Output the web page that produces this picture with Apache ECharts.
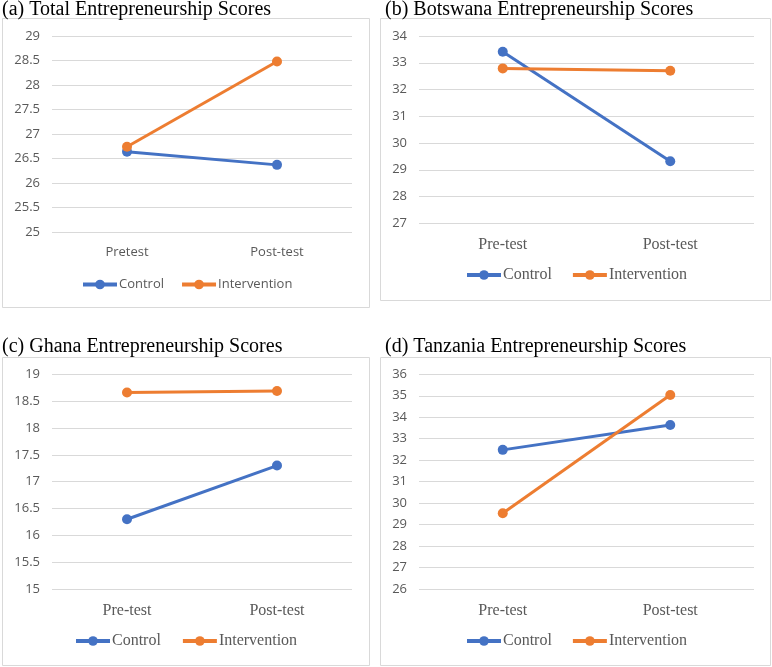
<!DOCTYPE html>
<html>
<head>
<meta charset="utf-8">
<script src="https://cdn.jsdelivr.net/npm/echarts@6/dist/echarts.min.js"></script>
<style>html,body{margin:0;padding:0;background:#fff}#c{width:772px;height:667px}</style>
</head>
<body>
<div id="c"></div>
<script>
// ---- data ----
const titles = [
  '(a) Total Entrepreneurship Scores',
  '(b) Botswana Entrepreneurship Scores',
  '(c) Ghana Entrepreneurship Scores',
  '(d) Tanzania Entrepreneurship Scores'
];
const categoriesA = ['Pretest', 'Post-test'];
const categoriesBCD = ['Pre-test', 'Post-test'];
const seriesNames = ['Control', 'Intervention'];

const totalControl = [26.64, 26.37];
const totalIntervention = [26.74, 28.48];
const botswanaControl = [33.41, 29.32];
const botswanaIntervention = [32.79, 32.70];
const ghanaControl = [16.30, 17.30];
const ghanaIntervention = [18.66, 18.69];
const tanzaniaControl = [32.48, 33.64];
const tanzaniaIntervention = [29.53, 35.04];

const yRanges = [
  {min: 25, max: 29, interval: 0.5},
  {min: 27, max: 34, interval: 1},
  {min: 15, max: 19, interval: 0.5},
  {min: 26, max: 36, interval: 1}
];

// ---- layout / style ----
const BLUE = '#4472C4', ORANGE = '#ED7D31';
const SANS = '"Open Sans", sans-serif';
const SERIF = '"Liberation Serif", "Times New Roman", serif';
const grids = [
  {left: 52, width: 300, top: 36, height: 196},
  {left: 419, width: 335, top: 36, height: 187.3},
  {left: 52, width: 300, top: 374.3, height: 214.7},
  {left: 419, width: 335, top: 374.3, height: 214.7}
];
const boxes = [
  {x: 2.5, y: 18.5, w: 367, h: 289},
  {x: 380.5, y: 18.5, w: 390, h: 282},
  {x: 2.5, y: 357.5, w: 367, h: 308},
  {x: 380.5, y: 357.5, w: 390, h: 308}
];
const titlePos = [{left: 2, top: 0}, {left: 385, top: 0}, {left: 2, top: 337}, {left: 385, top: 337}];
const legendPos = [
  {left: 81, top: 278, font: SANS, size: 13, gap: 16},
  {left: 465, top: 267, font: SERIF, size: 16, gap: 19},
  {left: 74, top: 633, font: SERIF, size: 16, gap: 20},
  {left: 465, top: 633, font: SERIF, size: 16, gap: 19}
];

const dataSets = [
  [totalControl, totalIntervention],
  [botswanaControl, botswanaIntervention],
  [ghanaControl, ghanaIntervention],
  [tanzaniaControl, tanzaniaIntervention]
];

const option = {
  animation: false,
  backgroundColor: '#fff',
  graphic: boxes.map(b => ({
    type: 'rect', shape: {x: b.x, y: b.y, width: b.w, height: b.h},
    style: {fill: 'none', stroke: '#d9d9d9', lineWidth: 1}, silent: true, z: -1
  })),
  title: titles.map((t, i) => ({
    text: t, left: titlePos[i].left, top: titlePos[i].top, padding: 0,
    textStyle: {fontFamily: SERIF, fontSize: 20, fontWeight: 'normal', color: '#000'}
  })),
  legend: legendPos.map((l, i) => ({
    left: l.left, top: l.top, orient: 'horizontal', padding: 0,
    itemWidth: 34, itemHeight: 12, itemGap: l.gap,
    data: seriesNames,
    lineStyle: {width: 4},
    textStyle: {fontFamily: l.font, fontSize: l.size, color: '#595959', padding: [0, 0, 0, -3]}
  })),
  grid: grids,
  xAxis: grids.map((g, i) => ({
    type: 'category', gridIndex: i, data: i === 0 ? categoriesA : categoriesBCD,
    boundaryGap: true,
    axisLine: {show: false}, axisTick: {show: false},
    axisLabel: {
      margin: i === 0 ? 14 : (i === 1 ? 13 : 14),
      fontFamily: i === 0 ? SANS : SERIF, fontSize: i === 0 ? 13 : 16, color: '#595959'
    }
  })),
  yAxis: grids.map((g, i) => ({
    type: 'value', gridIndex: i,
    min: yRanges[i].min, max: yRanges[i].max, interval: yRanges[i].interval,
    axisLine: {show: false}, axisTick: {show: false},
    splitLine: {lineStyle: {color: '#d9d9d9', width: 1}},
    axisLabel: {fontFamily: SANS, fontSize: 13, color: '#595959', margin: 12}
  })),
  series: []
};

dataSets.forEach((pair, i) => {
  pair.forEach((vals, k) => {
    option.series.push({
      type: 'line', name: seriesNames[k], xAxisIndex: i, yAxisIndex: i,
      data: vals, symbol: 'circle', symbolSize: 10,
      lineStyle: {width: 3, color: k === 0 ? BLUE : ORANGE},
      itemStyle: {color: k === 0 ? BLUE : ORANGE},
      z: k === 0 ? 2 : 3
    });
  });
});

const chart = echarts.init(document.getElementById('c'), null, {renderer: 'canvas'});
chart.setOption(option);
</script>
</body>
</html>
